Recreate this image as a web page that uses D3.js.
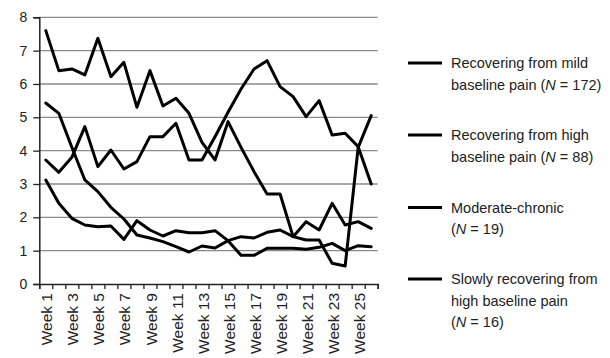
<!DOCTYPE html>
<html><head><meta charset="utf-8">
<script src="https://cdn.jsdelivr.net/npm/d3@7"></script>
<style>
html,body{margin:0;padding:0;background:#fff;}
svg{display:block;font-family:"Liberation Sans",Arial,sans-serif;}
</style></head>
<body><svg id="c" width="610" height="358"></svg>
<script>
const weeks = ["Week 1","Week 2","Week 3","Week 4","Week 5","Week 6","Week 7","Week 8","Week 9","Week 10","Week 11","Week 12","Week 13","Week 14","Week 15","Week 16","Week 17","Week 18","Week 19","Week 20","Week 21","Week 22","Week 23","Week 24","Week 25","Week 26"];
const shownWeekLabels = ["Week 1","Week 3","Week 5","Week 7","Week 9","Week 11","Week 13","Week 15","Week 17","Week 19","Week 21","Week 23","Week 25"];
const yTicks = [0,1,2,3,4,5,6,7,8];
const mildValues = [3.12,2.42,1.97,1.77,1.72,1.74,1.34,1.9,1.62,1.44,1.6,1.54,1.54,1.6,1.3,0.86,0.86,1.07,1.07,1.07,1.04,1.1,1.22,1.0,1.15,1.12];
const highValues = [7.6,6.4,6.45,6.27,7.37,6.22,6.65,5.3,6.4,5.34,5.57,5.12,4.25,3.72,4.87,4.1,3.37,2.7,2.7,1.42,1.87,1.62,2.42,1.77,1.87,1.67];
const moderateValues = [3.72,3.35,3.8,4.72,3.52,4.02,3.45,3.67,4.42,4.42,4.82,3.72,3.72,4.42,5.15,5.85,6.45,6.7,5.92,5.62,5.02,5.5,4.47,4.52,4.12,3.0];
const slowlyValues = [5.43,5.12,4.1,3.12,2.77,2.3,1.95,1.47,1.38,1.27,1.12,0.96,1.14,1.08,1.3,1.42,1.38,1.55,1.62,1.42,1.32,1.32,0.62,0.54,4.1,5.05];
const seriesNames = [
  ["Recovering from mild", ["baseline pain (", "N", " =  172)"]],
  ["Recovering from high", ["baseline pain (", "N", " = 88)"]],
  ["Moderate-chronic", ["(", "N", " = 19)"]],
  ["Slowly recovering from", ["high baseline pain"], ["(", "N", " = 16)"]]
];

const svg = d3.select("#c");
const L = 39.3, R = 377.7, T = 17.3, B = 284;
const x = d3.scaleBand().domain(weeks).range([L, R]).padding(0);
const xb = d3.scaleLinear().domain([0, weeks.length]).range([L, R]);
const y = d3.scaleLinear().domain([0, 8]).range([B, T]);

// gridlines
svg.append("g").selectAll("line").data(yTicks.filter(d => d > 0)).join("line")
  .attr("x1", L).attr("x2", R).attr("y1", d => y(d)).attr("y2", d => y(d))
  .attr("stroke", "#8a8a8a").attr("stroke-width", 1.3);

// y axis
const ya = svg.append("g").attr("transform", `translate(${L},0)`)
  .call(d3.axisLeft(y).tickValues(yTicks).tickSize(6).tickPadding(6).tickFormat(d3.format("d")));
ya.select(".domain").attr("stroke", "#222").attr("stroke-width", 1.5);
ya.selectAll(".tick line").attr("stroke", "#222").attr("stroke-width", 1.3);
ya.selectAll("text").attr("font-size", 14).attr("fill", "#222");

// x axis ticks at band boundaries
const xt = svg.append("g").attr("transform", `translate(0,${B})`)
  .call(d3.axisBottom(xb).tickValues(d3.range(0, weeks.length + 1)).tickSize(5).tickFormat(""));
xt.select(".domain").attr("stroke", "#222").attr("stroke-width", 1.5);
xt.selectAll(".tick line").attr("stroke", "#222").attr("stroke-width", 1.3);

// x labels
const xl = svg.append("g").attr("transform", `translate(0,${B})`)
  .call(d3.axisBottom(x).tickValues(shownWeekLabels).tickSize(0).tickPadding(0));
xl.select(".domain").remove();
xl.selectAll("text").attr("font-size", 15.5).attr("fill", "#222")
  .attr("text-anchor", "end").attr("transform", "rotate(-90)")
  .attr("x", -9).attr("y", 1).attr("dy", "0.36em");

// lines
const line = d3.line().x((d, i) => x(weeks[i]) + x.bandwidth() / 2).y(d => y(d));
const allSeries = [mildValues, highValues, moderateValues, slowlyValues];
svg.append("g").selectAll("path").data(allSeries).join("path")
  .attr("d", line).attr("fill", "none").attr("stroke", "#000")
  .attr("stroke-width", 3).attr("stroke-linejoin", "round").attr("stroke-linecap", "round");

// legend
const legendY = [63, 135, 207.5, 279];
const lg = svg.append("g");
seriesNames.forEach((s, i) => {
  const g = lg.append("g").attr("transform", `translate(0,${legendY[i]})`);
  g.append("line").attr("x1", 408).attr("x2", 442).attr("y1", 0).attr("y2", 0)
    .attr("stroke", "#000").attr("stroke-width", 3);
  const t = g.append("text").attr("font-size", 14.5).attr("fill", "#222");
  s.forEach((ln, j) => {
    const parts = Array.isArray(ln) ? ln : [ln];
    parts.forEach((p, k) => {
      const ts = t.append("tspan").text(p);
      if (k === 0) ts.attr("x", 451).attr("y", j * 21.5).attr("dy", "0.35em");
      if (p === "N") ts.attr("font-style", "italic");
    });
  });
});
</script></body></html>
